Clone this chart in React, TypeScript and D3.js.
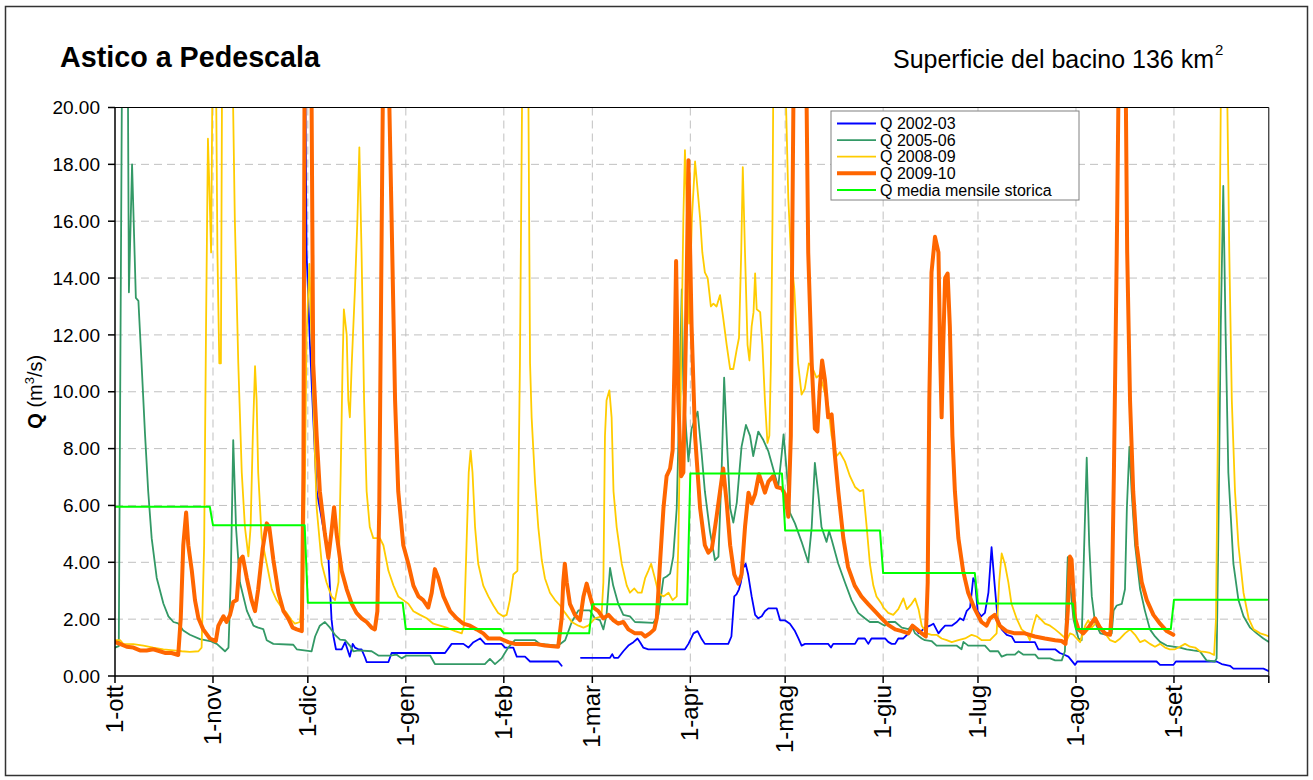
import React from "react";
import * as d3 from "d3";

type Pt = [number, number | null];

// day index from 1 October
const monthStarts = [0, 31, 61, 92, 123, 151, 182, 212, 243, 273, 304, 335];
const monthLabels = ["1-ott", "1-nov", "1-dic", "1-gen", "1-feb", "1-mar", "1-apr", "1-mag", "1-giu", "1-lug", "1-ago", "1-set"];
const yTicks = [0, 2, 4, 6, 8, 10, 12, 14, 16, 18, 20];

const mediaMensile = [5.95, 5.3, 2.58, 1.65, 1.5, 2.52, 7.12, 5.12, 3.62, 2.55, 1.65, 2.68];

const q0203: Pt[] = [
  [60, 24], [60.6, 14.9], [61.7, 11.6], [62.7, 9.1], [63.8, 6.5], [64.8, 5.9], [65.9, 5.2], [67.5, 4.2], [68.5, 2.0], [69.1, 1.4], [69.9, 0.94], [71.7, 0.94], [72.8, 1.19], [73.5, 0.95], [74.3, 0.68], [75.2, 1.13], [75.9, 1.0], [77, 0.94], [78, 0.94], [79.1, 0.65], [79.6, 0.49], [86.5, 0.49], [87.5, 0.81], [104.4, 0.81], [106.5, 1.13], [110.2, 1.13], [111.8, 1.0], [113.4, 1.19], [115.5, 1.32], [117.1, 1.13], [122.3, 1.13], [123.4, 1.0], [126, 1.0], [127.1, 0.68], [129.7, 0.68], [131.3, 0.51], [140.2, 0.51], [141.3, 0.36],
  [144, null],
  [147.4, 0.64], [156.6, 0.64], [157.3, 0.77], [157.9, 0.64], [159.2, 0.64], [160.8, 0.87], [162.4, 1.07], [164, 1.19], [165.3, 1.32], [166.1, 1.19], [167.1, 1.0], [168.7, 0.94], [180.3, 0.94], [181.4, 1.13], [183, 1.5], [184.3, 1.58], [185.6, 1.3], [186.6, 1.13], [194, 1.13], [195, 1.39], [195.9, 2.8], [196.6, 2.87], [197.4, 3.05], [198, 3.3], [198.7, 3.8], [199.5, 3.95], [200.3, 3.57], [201.4, 2.8], [202.5, 2.15], [203.5, 2.03], [204.6, 2.1], [205.6, 2.28], [206.7, 2.38], [209.3, 2.38], [210.4, 1.96], [211.9, 1.96], [213.5, 1.84], [215.1, 1.58], [216.2, 1.32], [217.2, 1.07], [218.3, 1.13], [225.6, 1.13], [226.5, 1.0], [227.2, 1.13], [234.1, 1.13], [235.1, 1.32], [237.2, 1.32], [238.3, 1.13], [239.3, 1.32], [243.6, 1.32], [244.6, 1.2], [245.7, 1.13], [246.8, 1.13], [247.8, 1.32], [249.4, 1.32], [251, 1.5], [252.6, 1.77], [254.2, 1.5], [256.3, 1.7], [257.8, 1.77], [258.9, 1.84], [260.5, 1.5], [261.5, 1.64], [262.6, 1.77], [264.7, 1.77], [266.3, 1.9], [267.3, 2.03], [268.4, 1.96], [269.4, 2.28], [270.5, 2.41], [271.5, 3.44], [272.1, 3.3], [272.9, 2.28], [274, 2.1], [275.2, 2.22], [276.3, 2.93], [277.3, 4.53], [278.2, 3.3], [279.2, 2.03], [280.5, 1.64], [282.1, 1.45], [283.7, 1.39], [284.7, 1.19], [291, 1.19], [292.1, 0.94], [297.4, 0.94], [298.9, 0.81], [300.5, 0.74], [301.6, 0.68], [303.2, 0.46], [303.7, 0.39], [304.4, 0.51], [329.5, 0.51], [330.6, 0.39], [334.8, 0.39], [335.6, 0.51], [348.5, 0.51], [350.1, 0.42], [352.7, 0.36], [353.8, 0.26], [363.3, 0.26], [365, 0.17],
];

const q0506: Pt[] = [
  [0, 1.0], [1.2, 1.05], [2.4, 25], [3.9, 25], [4.4, 13.5], [5.4, 18], [6.6, 13.3], [7.4, 13.2], [8.4, 11], [9.5, 8.5], [10.5, 6.5], [11.6, 4.85], [13.2, 3.45], [15.3, 2.55], [16.9, 2.1], [18.5, 1.9], [20, 1.85], [21.6, 1.6], [23.7, 1.45], [26.9, 1.3], [30.1, 1.23], [32.2, 1.13], [34.8, 0.87], [35.9, 1.0], [36.6, 3.3], [37.4, 8.3], [38.3, 5.2], [39.5, 3.3], [41.7, 2.3], [43.8, 1.77], [45.3, 1.7], [46.9, 1.65], [48, 1.26], [50.1, 1.13], [56.4, 1.1], [57.5, 0.94], [62.2, 0.87], [63.3, 1.39], [64.8, 1.77], [66.4, 1.9], [68, 1.7], [69.6, 1.45], [71.2, 1.28], [72.8, 1.26], [74.3, 1.07], [75.4, 0.87], [77, 0.9], [81.2, 0.87], [83.3, 0.72], [87, 0.72], [89.1, 0.75], [90.7, 0.62], [92.2, 0.72], [99.7, 0.72], [101.2, 0.42], [117, 0.42], [118.6, 0.6], [120.2, 0.42], [122.3, 0.62], [124.4, 1.0], [126.5, 1.26], [132.9, 1.26], [134.4, 1.13], [140.2, 1.07], [142.4, 1.26], [144.5, 1.9], [146.6, 2.31], [150.2, 2.31], [151.8, 2.03], [153.4, 1.96], [154.5, 1.64], [155.5, 2.15], [156.6, 3.8], [157.6, 3.18], [159.2, 2.54], [160.8, 2.15], [162.9, 2.1], [164.5, 1.9], [170.3, 1.87], [171.9, 2.15], [173.5, 3.44], [174.5, 3.5], [175.6, 3.6], [176.6, 4.2], [177.7, 5.9], [178.7, 10.4], [179.3, 13.6], [179.8, 10.1], [180.8, 8.45], [181.4, 7.55], [182.4, 8.7], [184.3, 9.3], [185.6, 7.8], [186.6, 6.5], [188.2, 5.1], [189.8, 4.08], [190.9, 4.2], [191.9, 7.2], [192.7, 10.5], [193.5, 8.45], [194.6, 5.9], [195.6, 5.4], [196.7, 6.1], [198.2, 8.06], [199.6, 8.83], [200.9, 8.45], [201.9, 7.74], [203.5, 8.6], [205.1, 8.3], [206.7, 7.9], [208.2, 7.3], [209.8, 6.65], [210.9, 7.8], [211.5, 8.5], [212.5, 7.2], [213.5, 5.75], [215.1, 5.37], [217.2, 4.72], [219.3, 4.0], [220.4, 5.24], [221.4, 7.5], [222.5, 6.4], [223.5, 5.24], [225.1, 4.72], [225.9, 5.1], [226.7, 4.8], [228.8, 3.95], [230.9, 3.3], [233, 2.67], [235.1, 2.22], [237.2, 2.03], [238.8, 1.9], [241.4, 1.9], [243.5, 1.77], [244.6, 1.9], [246.8, 1.9], [248.9, 1.7], [251, 1.65], [252, 1.77], [253.1, 1.5], [255.2, 1.32], [256.2, 1.26], [258.3, 1.23], [259.9, 1.07], [266.2, 1.07], [267.8, 0.94], [268.4, 1.2], [269.9, 1.07], [275.2, 1.07], [276.8, 0.87], [279.4, 0.87], [280.5, 0.68], [282.1, 0.75], [284.7, 0.75], [285.8, 0.87], [287.4, 0.75], [291.1, 0.75], [292.1, 0.62], [295.8, 0.62], [297.4, 0.55], [299.5, 0.55], [300.5, 0.87], [301.4, 4.18], [302.1, 3.3], [303.2, 2.0], [304.8, 1.32], [305.8, 1.26], [306.6, 4.6], [307.4, 7.68], [308.2, 4.6], [309, 2.8], [310, 1.9], [311.7, 1.5], [313.8, 1.45], [315.3, 1.5], [315.9, 2.3], [316.9, 2.48], [318.5, 2.54], [319.5, 3.05], [320.1, 5.9], [320.9, 8.06], [321.6, 6.5], [322.7, 4.6], [324.3, 3.05], [325.8, 2.3], [327.4, 1.64], [329, 1.39], [330.6, 1.2], [332.7, 1.07], [334.8, 1.03], [336.9, 1.0], [339, 0.94], [341.1, 0.9], [343.2, 0.87], [345.3, 0.55], [347.9, 0.51], [348.5, 0.62], [349, 4.6], [349.8, 12.3], [350.6, 17.24], [351.3, 12.3], [352.2, 7.16], [353.8, 3.95], [355.4, 2.67], [357, 2.1], [359.1, 1.7], [361.2, 1.5], [363.3, 1.32], [365, 1.2],
];

const q0809: Pt[] = [
  [0, 1.26], [1.6, 1.26], [2.6, 1.13], [5.8, 1.12], [9, 1.07], [12.1, 1.0], [15.3, 0.94], [18.5, 0.9], [21.1, 0.87], [23.7, 0.85], [26.4, 0.87], [27.4, 1.0], [28.2, 4.6], [28.8, 12.3], [29.4, 18.9], [29.8, 17.4], [30.4, 14.9], [30.9, 22], [31.5, 25], [31.9, 22], [32.4, 14.9], [33, 11], [33.5, 11], [33.9, 22], [35, 30], [36.5, 28], [37.1, 22], [37.9, 16.1], [39, 11], [40.1, 7.16], [41.1, 5.24], [42.2, 4.21], [42.9, 5.24], [43.6, 8.45], [44.3, 10.9], [44.8, 9.7], [45.3, 7.16], [46.4, 4.85], [48, 3.95], [49.6, 3.05], [51.1, 2.67], [52.7, 2.41], [54.3, 2.22], [55.9, 1.96], [56.9, 1.84], [58.5, 1.9], [59.6, 3.3], [60.1, 7.16], [60.6, 12], [61.5, 14.5], [62.7, 9.7], [63.8, 5.9], [65.4, 3.95], [66.9, 3.3], [68.5, 2.8], [69.6, 2.67], [70.7, 3.3], [71.4, 7.16], [72, 11], [72.4, 12.9], [73.3, 12.0], [73.8, 9.7], [74.3, 9.1], [74.9, 11], [75.9, 13.6], [76.7, 16.1], [77.3, 18.6], [78, 14.9], [78.8, 9.7], [79.6, 6.5], [80.6, 5.24], [81.7, 4.85], [83.8, 4.85], [84.9, 4.6], [86.5, 3.7], [88.1, 3.18], [89.6, 2.8], [91.2, 2.67], [92.8, 2.54], [94.4, 2.28], [96.5, 2.15], [98.6, 2.03], [100.7, 1.84], [102.8, 1.77], [104.9, 1.7], [107.6, 1.58], [109.7, 1.5], [110.4, 1.77], [111.2, 4.6], [111.9, 7.16], [112.5, 7.93], [113.1, 7.16], [113.9, 5.24], [114.9, 3.95], [116.5, 3.18], [118.1, 2.8], [119.7, 2.48], [121.2, 2.22], [122.8, 2.1], [123.9, 2.15], [124.9, 2.67], [126, 3.57], [127.3, 3.7], [128.1, 11], [128.9, 22], [130, 30], [130.8, 20], [131.3, 11], [131.8, 9.1], [132.9, 6.78], [133.9, 5.24], [135, 4.08], [136, 3.44], [137.6, 2.93], [139.2, 2.67], [140.8, 2.48], [142.4, 2.22], [144.5, 1.9], [146.6, 1.77], [148.2, 1.7], [149.7, 1.77], [150.8, 1.9], [151.8, 2.03], [153.9, 2.1], [154.5, 3.3], [155, 8.45], [155.5, 9.7], [156.4, 10.05], [157.1, 9.1], [157.7, 6.5], [158.7, 5.24], [160.3, 3.95], [161.9, 3.18], [162.9, 2.93], [164.3, 3.08], [165.4, 2.93], [166.6, 2.93], [167.7, 3.44], [168.7, 3.7], [169.6, 3.95], [170.8, 3.44], [171.9, 2.93], [173.5, 2.8], [175.1, 2.93], [176.4, 2.67], [177.7, 2.8], [178.2, 4.6], [179.1, 11], [179.8, 16.1], [180.3, 18.5], [181, 16], [181.6, 12.4], [182.5, 16.1], [183.5, 18.1], [185.1, 16.1], [185.8, 14.9], [186.6, 14.2], [187.5, 14], [188.5, 13], [189.3, 13.1], [190.3, 13], [191.4, 13.4], [192.4, 12.6], [193.5, 11.65], [194.6, 10.8], [195.6, 10.8], [196.7, 11.5], [197.4, 11.9], [198.1, 14.9], [198.6, 17.9], [199.3, 14.9], [200.1, 11.65], [200.7, 11.1], [201.4, 12.3], [202, 12.8], [202.5, 14.16], [203, 12.9], [204.1, 12.8], [204.8, 11.65], [205.6, 9.7], [206.4, 8.2], [207, 8.45], [207.5, 11], [208, 16.1], [208.2, 20], [209, 30], [211.5, 30], [212.3, 20], [213, 16.8], [213.8, 14.9], [214.9, 13.6], [216.1, 11], [217.2, 9.9], [218.2, 10.1], [219.5, 11], [220.4, 10.9], [221.9, 10.5], [223, 10.6], [224, 10.2], [225.6, 9.5], [226.7, 8.45], [228.3, 7.74], [229.3, 7.87], [230.9, 7.55], [232.5, 7.03], [234.1, 6.65], [235.7, 6.5], [236.7, 6.55], [237.8, 5.24], [238.8, 3.95], [239.9, 3.18], [240.9, 2.8], [242.5, 2.54], [243.1, 2.41], [244.6, 2.22], [246.2, 2.15], [247.8, 2.35], [249.4, 2.73], [250.5, 2.35], [252, 2.54], [253.1, 2.73], [254.2, 2.35], [255.2, 1.77], [256.8, 1.5], [258.3, 1.45], [259.9, 1.45], [261.5, 1.32], [263.1, 1.26], [264.7, 1.19], [266.8, 1.26], [268.9, 1.32], [271, 1.45], [272.6, 1.39], [274.2, 1.26], [276.8, 1.26], [278.9, 1.5], [279.7, 3.3], [280.5, 4.31], [281.5, 3.95], [282.6, 3.3], [283.6, 2.54], [285.2, 2.03], [286.8, 1.64], [288.4, 1.5], [289.4, 1.26], [290.5, 1.77], [291.5, 2.15], [292.6, 2.03], [294.2, 1.84], [295.8, 1.77], [297.4, 1.64], [298.9, 1.5], [300, 1.39], [301.1, 1.26], [302.1, 1.5], [303.2, 1.45], [304.2, 1.32], [305.3, 1.19], [306.9, 1.77], [307.9, 1.96], [309, 1.7], [310.6, 1.9], [311.6, 1.64], [313.2, 1.5], [314.8, 1.26], [316.4, 1.19], [318, 1.32], [319.5, 1.5], [321.1, 1.64], [322.7, 1.45], [324.3, 1.19], [325.8, 1.26], [327.4, 1.13], [329, 1.03], [330.6, 1.13], [332.2, 1.0], [333.7, 0.94], [335.3, 0.94], [336.9, 1.03], [338.5, 1.13], [340.1, 1.03], [341.7, 1.0], [343.2, 0.87], [344.8, 0.85], [346.4, 0.81], [347.7, 0.74], [348.3, 2.03], [349, 9.7], [349.8, 20], [350.5, 30], [351.2, 30], [351.9, 20], [352.5, 14.9], [353.3, 9.7], [354.3, 6.5], [355.4, 4.6], [357, 2.93], [358.6, 2.03], [360.2, 1.64], [362.3, 1.5], [363.8, 1.45], [365, 1.39],
];

const q0910: Pt[] = [
  [0, 1.19], [1.6, 1.13], [3.7, 1.03], [5.8, 1.0], [7.9, 0.9], [10, 0.9], [12.1, 0.94], [14.2, 0.87], [15.8, 0.81], [17.9, 0.81], [20, 0.74], [20.8, 2.03], [21.6, 4.6], [22.5, 5.75], [23.2, 4.6], [24.3, 3.7], [25.3, 2.67], [26.4, 2.03], [27.9, 1.64], [30, 1.32], [31.9, 1.23], [32.7, 1.77], [34.3, 2.1], [35.3, 1.9], [36.4, 2.15], [37.4, 2.6], [38.5, 2.67], [39.5, 4.08], [40.4, 4.2], [41.7, 3.44], [43.2, 2.67], [44.3, 2.28], [45.3, 3.05], [46.7, 4.47], [48, 5.37], [48.8, 5.24], [50.1, 4.08], [51.7, 2.93], [53.3, 2.28], [54.8, 2.03], [56.2, 1.7], [57.5, 1.64], [59.1, 1.58], [59.6, 7.16], [60.2, 30], [61.5, 40], [62.2, 20], [62.7, 11], [63.8, 8.45], [64.8, 6.5], [66.4, 5.0], [67.5, 4.15], [68.5, 5.1], [69.3, 5.94], [70.1, 5.0], [71.7, 3.7], [73.3, 3.05], [74.9, 2.54], [76.4, 2.22], [78, 2.03], [79.6, 1.9], [81.2, 1.7], [82.2, 1.64], [83, 2.28], [83.6, 5.9], [84.2, 13.6], [84.7, 20], [85.5, 35], [86, 35], [86.8, 20], [87.5, 16.1], [88.6, 9.7], [89.6, 6.5], [91.2, 4.6], [92.8, 3.95], [94.4, 3.18], [96, 2.8], [97.5, 2.67], [99.1, 2.41], [100.2, 2.93], [101.2, 3.76], [102.3, 3.44], [103.9, 2.8], [106, 2.28], [108.1, 2.03], [110.2, 1.84], [112.3, 1.77], [114.4, 1.64], [116.5, 1.5], [118.1, 1.32], [121.8, 1.32], [124.4, 1.19], [126.5, 1.13], [132.9, 1.13], [136, 1.07], [140.2, 1.03], [141.3, 2.03], [141.8, 3.3], [142.3, 3.95], [142.9, 3.3], [143.9, 2.54], [145.5, 2.15], [147.1, 1.96], [148.2, 2.8], [149.2, 3.25], [150.3, 2.8], [151.3, 2.41], [152.9, 2.28], [154.5, 2.03], [156.1, 2.15], [157.7, 1.96], [159.2, 1.84], [160.8, 1.9], [162.4, 1.64], [164.5, 1.5], [166.6, 1.5], [167.7, 1.39], [169.2, 1.5], [170.6, 1.64], [171.4, 2.03], [172.4, 3.95], [173.5, 5.9], [174.5, 7.03], [175.6, 7.3], [176.4, 7.93], [177, 11], [177.5, 14.6], [178.2, 9.7], [179.1, 7.03], [179.8, 7.16], [180.6, 12], [181.4, 18.14], [182.4, 12.3], [183.5, 8.45], [185.1, 5.9], [186.6, 4.6], [187.7, 4.34], [188.8, 4.47], [190.3, 5.6], [191.4, 6.5], [192.4, 7.3], [193.5, 6.1], [194.6, 4.6], [195.9, 3.57], [197.2, 3.25], [198.2, 3.57], [199.3, 5.24], [200.4, 6.45], [201.4, 6.07], [202.5, 6.4], [203.7, 7.1], [204.6, 6.8], [205.6, 6.45], [206.7, 6.84], [208.2, 7.03], [209.3, 6.65], [210.9, 6.6], [211.9, 6.4], [213, 5.6], [213.8, 8.45], [214.3, 16.1], [214.6, 20], [215.5, 35], [218, 35], [218.8, 20], [219.3, 14.9], [220.4, 11], [221.4, 8.7], [222.2, 8.6], [223, 10.2], [223.7, 11.1], [224.6, 10.4], [225.6, 9.1], [226.7, 9.2], [227.7, 7.8], [228.8, 6.5], [230.4, 4.85], [231.9, 3.83], [234, 3.18], [236.1, 2.8], [238.2, 2.54], [240.9, 2.22], [242.5, 2.03], [244.6, 1.8], [246.8, 1.64], [248.9, 1.58], [251, 1.5], [252.3, 1.77], [253.7, 1.64], [255.2, 1.5], [256.5, 1.39], [257.1, 3.3], [257.6, 9.7], [258.3, 14.2], [259.4, 15.45], [260.5, 14.9], [261.1, 11], [261.5, 9.1], [262, 11.6], [262.6, 14], [263.4, 14.16], [264.1, 12.3], [264.9, 8.45], [265.7, 6.5], [266.8, 4.85], [268.3, 3.7], [269.9, 2.93], [272, 2.35], [274.1, 1.9], [275.7, 1.77], [276.8, 2.03], [278.3, 2.15], [279.9, 1.77], [282, 1.58], [284.7, 1.5], [287.8, 1.5], [291, 1.39], [294.2, 1.32], [297.4, 1.26], [299.5, 1.23], [300.7, 1.13], [301.4, 2.28], [302.1, 4.2], [302.6, 4.1], [303.7, 2.03], [304.8, 1.64], [306.3, 1.5], [307.9, 1.7], [310, 2.03], [311.6, 1.7], [313.2, 1.5], [314.8, 1.45], [315.3, 2.28], [316, 7.16], [316.9, 14.9], [317.4, 20], [318, 35], [319.2, 35], [319.8, 20], [320.2, 14.9], [321.1, 9.7], [322.1, 6.5], [323.2, 4.6], [324.8, 3.3], [326.4, 2.67], [328.5, 2.15], [330.6, 1.84], [332.7, 1.58], [334.8, 1.45],
];

const seriesNames = ["Q 2002-03", "Q 2005-06", "Q 2008-09", "Q 2009-10", "Q media mensile storica"];
const seriesColors = ["#0000FF", "#339966", "#FFCC00", "#FF6600", "#00FF00"];
const seriesWidths = [1.8, 1.8, 1.8, 4, 2];

const FONT = "'Liberation Sans', Arial, Helvetica, sans-serif";

export default function App() {
  const W = 1313, H = 780;
  const left = 115, right = 1268.8, top = 107.5, bottom = 676;
  const x = d3.scaleLinear().domain([0, 365]).range([left, right]);
  const y = d3.scaleLinear().domain([0, 20]).range([bottom, top]);

  const line = d3
    .line<Pt>()
    .defined((d) => d[1] !== null)
    .x((d) => x(d[0]))
    .y((d) => y(d[1] as number));

  const mediaPts: Pt[] = [];
  mediaMensile.forEach((v, i) => {
    const s = monthStarts[i];
    const e = i < 11 ? monthStarts[i + 1] - 1 : 364.5;
    mediaPts.push([s, v], [e, v]);
  });

  const allSeries: Pt[][] = [q0203, q0506, q0809, q0910, mediaPts];

  return (
    <svg
      width={W}
      height={H}
      style={{ position: "absolute", left: 0, top: 0, background: "#fff" }}
      fontFamily={FONT}
    >
      <defs>
        <clipPath id="plotClip">
          <rect x={left} y={top} width={right - left} height={bottom - top} />
        </clipPath>
      </defs>
      <rect x={0} y={0} width={W} height={H} fill="#fff" />
      <rect x={5.5} y={6.5} width={1302} height={769} fill="#fff" stroke="#333" strokeWidth={1.5} />

      {/* Title */}
      <text x={60} y={67} fontSize={28.7} fontWeight="bold" fill="#000">Astico a Pedescala</text>
      <text x={1214} y={68} fontSize={25} textAnchor="end" fill="#000">
        Superficie del bacino 136 km
      </text>
      <text x={1215} y={55} fontSize={15} fill="#000">2</text>

      {/* Gridlines */}
      {yTicks.filter((t) => t > 0 && t < 20).map((t) => (
        <line key={"gy" + t} x1={left} x2={right} y1={y(t)} y2={y(t)} stroke="#C0C0C0" strokeWidth={1} strokeDasharray="8,5" />
      ))}
      {monthStarts.filter((m) => m > 0).map((m) => (
        <line key={"gx" + m} x1={x(m)} x2={x(m)} y1={top} y2={bottom} stroke="#C0C0C0" strokeWidth={1} strokeDasharray="8,5" />
      ))}

      {/* Series */}
      <g clipPath="url(#plotClip)">
        {allSeries.map((s, i) => (
          <path
            key={seriesNames[i]}
            d={line(s) || ""}
            fill="none"
            stroke={seriesColors[i]}
            strokeWidth={seriesWidths[i]}
            strokeLinejoin="round"
            strokeLinecap="round"
          />
        ))}
      </g>

      {/* plot border */}
      <line x1={left} x2={right} y1={top} y2={top} stroke="#000" strokeWidth={1} />
      <line x1={right} x2={right} y1={top} y2={bottom} stroke="#000" strokeWidth={1} />
      {/* axes */}
      <line x1={left} x2={left} y1={top} y2={bottom} stroke="#000" strokeWidth={1.5} />
      <line x1={left} x2={right} y1={bottom} y2={bottom} stroke="#000" strokeWidth={1.5} />

      {/* Y ticks */}
      {yTicks.map((t) => (
        <g key={"yt" + t}>
          <line x1={left - 7} x2={left} y1={y(t)} y2={y(t)} stroke="#000" strokeWidth={1.5} />
          <text x={100} y={y(t)} dy="0.35em" fontSize={19} textAnchor="end" fill="#000">
            {t.toFixed(2)}
          </text>
        </g>
      ))}

      {/* X ticks */}
      {monthStarts.concat([365]).map((m) => (
        <line key={"xt" + m} x1={x(m)} x2={x(m)} y1={bottom} y2={bottom + 7} stroke="#000" strokeWidth={1.5} />
      ))}
      {monthStarts.map((m, i) => (
        <text
          key={"xl" + m}
          transform={`translate(${x(m) + 8},${bottom + 9}) rotate(-90)`}
          fontSize={24}
          textAnchor="end"
          fill="#000"
        >
          {monthLabels[i]}
        </text>
      ))}

      {/* Y axis title */}
      <text transform={`translate(42,${(top + bottom) / 2}) rotate(-90)`} fontSize={20} textAnchor="middle" fill="#000">
        <tspan fontWeight="bold">Q</tspan>
        <tspan> (m</tspan>
        <tspan fontSize={13} dy={-8}>3</tspan>
        <tspan dy={8}>/s)</tspan>
      </text>

      {/* Legend */}
      <g>
        <rect x={831} y={111} width={248} height={89} fill="#fff" stroke="#808080" strokeWidth={1} />
        {seriesNames.map((n, i) => {
          const cy = 123.5 + i * 16.6;
          return (
            <g key={"lg" + n}>
              <line x1={837} x2={876} y1={cy} y2={cy} stroke={seriesColors[i]} strokeWidth={seriesWidths[i]} />
              <text x={880} y={cy} dy="0.36em" fontSize={16} fill="#000">{n}</text>
            </g>
          );
        })}
      </g>
    </svg>
  );
}
